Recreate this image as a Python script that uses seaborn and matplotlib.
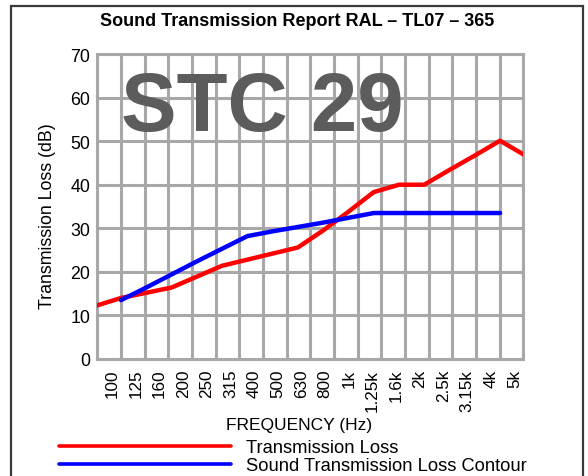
import numpy as np
import pandas as pd
import matplotlib
matplotlib.use("Agg")
import matplotlib.pyplot as plt
import seaborn as sns
from matplotlib.patches import Rectangle
from matplotlib.lines import Line2D

# one-third octave bands, 100 Hz .. 5 kHz
freq_labels = ["100", "125", "160", "200", "250", "315", "400", "500", "630",
               "800", "1k", "1.25k", "1.6k", "2k", "2.5k", "3.15k", "4k", "5k"]
tl_values = [12.2, 14.0, 15.2, 16.4, 18.9, 21.4, 22.8, 24.2, 25.6,
             29.5, 33.8, 38.3, 40.0, 40.0, 43.4, 46.7, 50.1, 46.7]
contour_values = [np.nan, 13.5, 16.4, 19.4, 22.4, 25.3, 28.2, 29.3, 30.3,
                  31.3, 32.4, 33.5, 33.5, 33.5, 33.5, 33.5, 33.5, np.nan]
stc_rating = 29
title = "Sound Transmission Report RAL \u2013 TL07 \u2013 365"

W, H = 588, 477
GRID = "#a8a8a8"


def fx(px):
    return px / W


def fy(py):
    return 1 - py / H


sns.set_style("white", {"text.color": "black", "axes.labelcolor": "black",
                        "xtick.color": "black", "ytick.color": "black"})
plt.rcParams["font.family"] = ["Liberation Sans", "DejaVu Sans"]

df = pd.DataFrame({
    "band": np.arange(len(freq_labels)),
    "tl": tl_values,
    "contour": contour_values,
})

fig = plt.figure(figsize=(W / 100, H / 100), dpi=100)
ax = fig.add_axes([fx(97.3), fy(360), (523.3 - 97.3) / W, (360 - 55) / H])

# data bands run edge to edge, the grid has one more cell than bands
xlo, xhi = 0.063, 16.92
edges = np.linspace(xlo, xhi, len(freq_labels) + 1)
centers = (edges[:-1] + edges[1:]) / 2

ax.set_xlim(xlo, xhi)
ax.set_ylim(0, 70)
ax.set_xticks(edges, minor=True)
ax.set_xticks(centers + 0.12)
ax.set_xticklabels(freq_labels, rotation=90, fontsize=12.3)
ax.set_yticks(range(0, 71, 10))
ax.tick_params(axis="y", labelsize=12.8, length=0, pad=5)
ax.tick_params(axis="x", which="both", length=0, pad=7)
ax.grid(which="minor", axis="x", color=GRID, lw=2.2)
ax.grid(which="major", axis="y", color=GRID, lw=2.2)
for sp in ax.spines.values():
    sp.set_color(GRID)
    sp.set_linewidth(2.2)

ax.text(0.056, (360 - 131) / 305, f"STC {stc_rating}", transform=ax.transAxes,
        fontsize=60, fontweight="bold", color="#5c5c5c", ha="left", va="baseline",
        zorder=1)

sns.lineplot(data=df, x="band", y="tl", color="#ff0000", lw=3.2, ax=ax, zorder=3)
sns.lineplot(data=df, x="band", y="contour", color="#0000ff", lw=3.2, ax=ax, zorder=3)

ax.set_xlabel("")
ax.set_ylabel("Transmission Loss (dB)", fontsize=12.8)
ax.yaxis.set_label_coords((56 - 97.3) / 426, 0.472)

fig.text(fx(299.5), fy(426), "FREQUENCY (Hz)", fontsize=12.5, ha="center", va="center")
fig.text(fx(297), fy(22), title, fontsize=13, fontweight="bold", ha="center", va="center")

handles = [Line2D([], [], color="#ff0000", lw=2.6),
           Line2D([], [], color="#0000ff", lw=2.6)]
fig.legend(handles, ["Transmission Loss", "Sound Transmission Loss Contour"],
           loc="upper left", bbox_to_anchor=(fx(59), fy(440)), frameon=False,
           fontsize=13.2, handlelength=9.4, handletextpad=0.8,
           labelspacing=0.05, borderpad=0, borderaxespad=0)

fig.patches.append(Rectangle((fx(11), fy(490)), fx(583) - fx(11), fy(7) - fy(490),
                             transform=fig.transFigure, fill=False,
                             edgecolor="#3a3a3a", lw=1.6))

fig.savefig("out.png", dpi=100)
